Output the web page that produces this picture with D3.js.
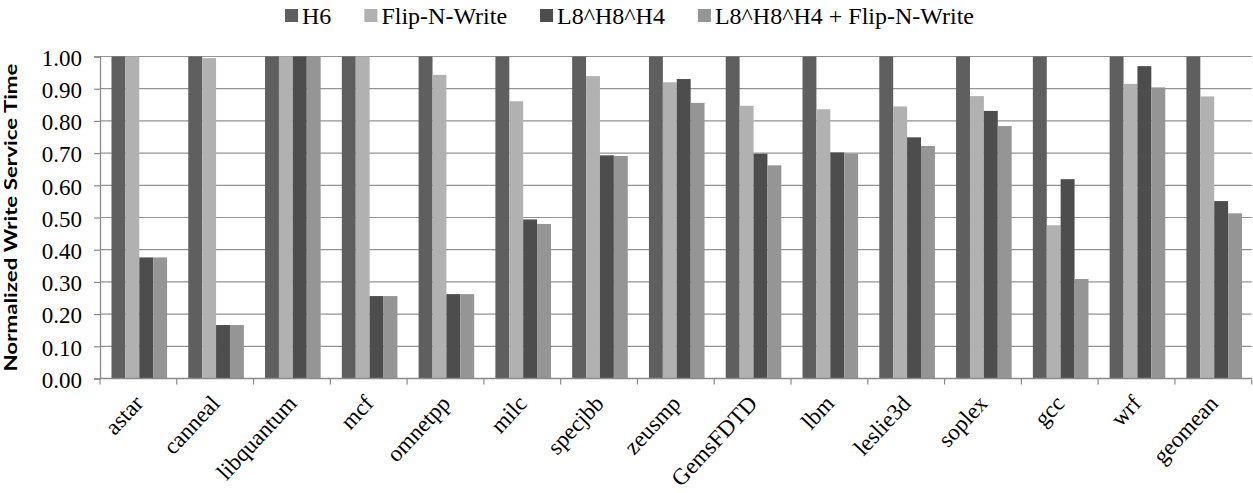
<!DOCTYPE html>
<html>
<head>
<meta charset="utf-8">
<script src="https://cdn.jsdelivr.net/npm/d3@7"></script>
<style>
  html, body { margin: 0; padding: 0; background: #fff; }
  svg { display: block; }
</style>
</head>
<body>
<svg id="chart" width="1253" height="493"></svg>
<script>
// Benchmarks on the x axis
const categories = ["astar", "canneal", "libquantum", "mcf", "omnetpp", "milc", "specjbb",
  "zeusmp", "GemsFDTD", "lbm", "leslie3d", "soplex", "gcc", "wrf", "geomean"];

// Series names (legend order)
const seriesNames = ["H6", "Flip-N-Write", "L8^H8^H4", "L8^H8^H4 + Flip-N-Write"];

// Normalized write service time per benchmark, one array per series
const h6       = [1.00, 1.00, 1.00, 1.00, 1.00, 1.00, 1.00, 1.00, 1.00, 1.00, 1.00, 1.00, 1.00, 1.00, 1.00];
const flipNW   = [1.00, 0.995, 1.00, 1.00, 0.943, 0.861, 0.939, 0.920, 0.847, 0.836, 0.845, 0.877, 0.476, 0.915, 0.876];
const l8h8h4   = [0.376, 0.166, 1.00, 0.256, 0.262, 0.494, 0.693, 0.930, 0.698, 0.702, 0.749, 0.831, 0.619, 0.970, 0.551];
const combined = [0.376, 0.166, 1.00, 0.256, 0.262, 0.480, 0.691, 0.856, 0.662, 0.698, 0.722, 0.784, 0.309, 0.904, 0.513];

// Y axis ticks
const yTicks = [0, 0.1, 0.2, 0.3, 0.4, 0.5, 0.6, 0.7, 0.8, 0.9, 1.0];

const seriesValues = [h6, flipNW, l8h8h4, combined];
const colors = ["#5f5f5f", "#b1b1b1", "#4d4d4d", "#959595"];

const svg = d3.select("#chart");
const plot = { left: 100, right: 1251.7, top: 56.5, bottom: 378.5 };
const serif = "'Liberation Serif', 'Times New Roman', serif";
const fontSize = 23;

const y = d3.scaleLinear().domain([0, 1]).range([plot.bottom, plot.top]);
const x0 = d3.scaleBand().domain(categories).range([plot.left, plot.right]).paddingInner(0).paddingOuter(0);
const groupW = 55.6;
const x1 = d3.scaleBand().domain(seriesNames).range([0, groupW]).padding(0);
const groupOffset = (x0.bandwidth() - groupW) / 2 + 0.9;

// Horizontal gridlines
svg.append("g")
  .selectAll("line")
  .data(yTicks.filter(t => t > 0))
  .join("line")
  .attr("x1", plot.left).attr("x2", plot.right)
  .attr("y1", d => y(d)).attr("y2", d => y(d))
  .attr("stroke", "#939393").attr("stroke-width", 1.2);

// Bars
const rows = categories.map((c, i) => ({ cat: c, vals: seriesNames.map((s, j) => ({ s, v: seriesValues[j][i], j })) }));
svg.append("g")
  .selectAll("g")
  .data(rows)
  .join("g")
  .attr("transform", d => `translate(${x0(d.cat) + groupOffset},0)`)
  .selectAll("rect")
  .data(d => d.vals)
  .join("rect")
  .attr("x", d => x1(d.s))
  .attr("width", x1.bandwidth())
  .attr("y", d => y(d.v))
  .attr("height", d => y(0) - y(d.v))
  .attr("fill", d => colors[d.j]);

// Y axis
const yAxis = d3.axisLeft(y).tickValues(yTicks).tickFormat(d3.format(".2f")).tickSize(6).tickPadding(12);
const gy = svg.append("g").attr("transform", `translate(${plot.left},0)`).call(yAxis);
gy.select(".domain").attr("stroke", "#8a8a8a").attr("stroke-width", 1.3);
gy.selectAll(".tick line").attr("stroke", "#8a8a8a").attr("stroke-width", 1.2);
gy.selectAll(".tick text")
  .attr("font-family", serif).attr("font-size", fontSize).attr("fill", "#000")
  .attr("dy", "0.38em");

// X axis (ticks at category boundaries)
const gx = svg.append("g").attr("transform", `translate(0,${plot.bottom})`);
gx.append("line")
  .attr("x1", plot.left).attr("x2", plot.right)
  .attr("y1", 0).attr("y2", 0)
  .attr("stroke", "#8a8a8a").attr("stroke-width", 1.3);
const boundaries = categories.map(c => x0(c)).concat([plot.right]);
gx.selectAll("line.tick")
  .data(boundaries)
  .join("line")
  .attr("class", "tick")
  .attr("x1", d => d).attr("x2", d => d)
  .attr("y1", 0).attr("y2", 6)
  .attr("stroke", "#8a8a8a").attr("stroke-width", 1.2);

// Slanted category labels
gx.selectAll("text")
  .data(categories)
  .join("text")
  .attr("transform", d => `translate(${x0(d) + x0.bandwidth() / 2 + 6},${26}) rotate(-47)`)
  .attr("text-anchor", "end")
  .attr("font-family", serif).attr("font-size", fontSize).attr("fill", "#000")
  .text(d => d);

// Y axis title
svg.append("text")
  .attr("transform", `translate(17,${(plot.top + plot.bottom) / 2}) rotate(-90)`)
  .attr("text-anchor", "middle")
  .attr("font-family", "Lato, 'Liberation Sans', sans-serif")
  .attr("font-weight", "bold")
  .attr("font-size", 16.5)
  .attr("textLength", 308)
  .attr("lengthAdjust", "spacingAndGlyphs")
  .attr("fill", "#000")
  .text("Normalized Write Service Time");

// Legend
const legendFont = 24;
const legend = svg.append("g");
const sq = 13, gapText = 4, gapItem = 33;
let cx = 0;
seriesNames.forEach((name, i) => {
  const g = legend.append("g").attr("transform", `translate(${cx},0)`);
  g.append("rect").attr("x", 0).attr("y", 9).attr("width", sq).attr("height", sq).attr("fill", colors[i]);
  const t = g.append("text").attr("x", sq + gapText).attr("y", 23.5)
    .attr("font-family", serif).attr("font-size", legendFont).attr("fill", "#000").text(name);
  const w = t.node().getComputedTextLength();
  cx += sq + gapText + w + gapItem;
});
const totalW = cx - gapItem;
legend.attr("transform", `translate(${629.5 - totalW / 2},0)`);
</script>
</body>
</html>
